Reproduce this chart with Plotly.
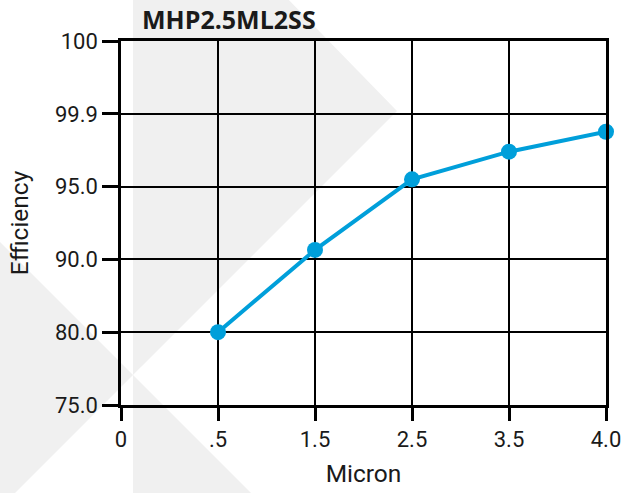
import numpy as np
import plotly.graph_objects as go

# ---- data ----
x_tick_labels = ["0", ".5", "1.5", "2.5", "3.5", "4.0"]
y_tick_labels = ["75.0", "80.0", "90.0", "95.0", "99.9", "100"]
y_tick_values = [75.0, 80.0, 90.0, 95.0, 99.9, 100.0]
micron = [".5", "1.5", "2.5", "3.5", "4.0"]
efficiency = [80.0, 90.65, 95.49, 97.35, 98.69]

# the axis is evenly spaced by tick label, so map values onto tick positions
tick_pos = list(range(len(y_tick_values)))
x_pos = [x_tick_labels.index(m) for m in micron]
y_pos = np.interp(efficiency, y_tick_values, tick_pos)

W, H = 625, 493
L, R, T, B = 121, 19, 41, 88
pw, ph = W - L - R, H - T - B

def px(x, y):
    # pixel -> paper coordinates
    return (x - L) / pw, (H - B - y) / ph

def poly(points):
    pts = [px(x, y) for x, y in points]
    return "M " + " L ".join(f"{a:.4f},{b:.4f}" for a, b in pts) + " Z"

grey = "#f0f0f0"
shapes = [
    dict(type="path", xref="paper", yref="paper", layer="below",
         path=poly([(133, -160), (397, 111), (133, 375)]),
         fillcolor=grey, line=dict(width=0)),
    dict(type="path", xref="paper", yref="paper", layer="below",
         path=poly([(0, 242), (133, 375), (0, 508)]),
         fillcolor=grey, line=dict(width=0)),
    dict(type="path", xref="paper", yref="paper", layer="below",
         path=poly([(133, 375), (133, 520), (278, 520)]),
         fillcolor=grey, line=dict(width=0)),
]

font_family = "Roboto, 'Noto Sans', sans-serif"
title_font = "'Open Sans', Roboto, sans-serif"
text_col = "#1a1a1a"

fig = go.Figure()
fig.add_trace(go.Scatter(
    x=x_pos, y=y_pos, mode="lines+markers",
    line=dict(color="#009fda", width=4),
    marker=dict(color="#009fda", size=16),
    cliponaxis=False, hoverinfo="skip", showlegend=False,
))

axis_common = dict(
    showline=True, linecolor="black", linewidth=2.5, mirror=True,
    showgrid=True, gridcolor="black", gridwidth=2,
    zeroline=False, ticks="outside", tickcolor="black", tickwidth=3,
    tickfont=dict(family=font_family, size=22, color=text_col),
    range=[0, 5], fixedrange=True, automargin=False,
)

fig.update_layout(
    width=W, height=H,
    margin=dict(l=L, r=R, t=T, b=B, pad=0, autoexpand=False),
    paper_bgcolor="white", plot_bgcolor="rgba(0,0,0,0)",
    shapes=shapes,
    title=dict(text="<b>MHP2.5ML2SS</b>", xref="paper", x=(142 - L) / pw,
               xanchor="left", yref="container", y=1 - 20 / H,
               yanchor="middle",
               font=dict(family=title_font, size=25, color=text_col)),
    xaxis=dict(axis_common, tickmode="array", tickvals=tick_pos,
               ticktext=x_tick_labels, ticklen=13,
               title=dict(text="Micron", standoff=14,
                          font=dict(family=font_family, size=24.5, color=text_col))),
    yaxis=dict(axis_common, tickmode="array", tickvals=tick_pos,
               ticktext=y_tick_labels, ticklen=16,
               title=dict(text="Efficiency", standoff=20,
                          font=dict(family=font_family, size=24.5, color=text_col))),
)

fig.write_html("out.html", config={"displayModeBar": False},
               post_script="document.body.style.margin='0';"
                           "document.body.style.overflow='hidden';")
